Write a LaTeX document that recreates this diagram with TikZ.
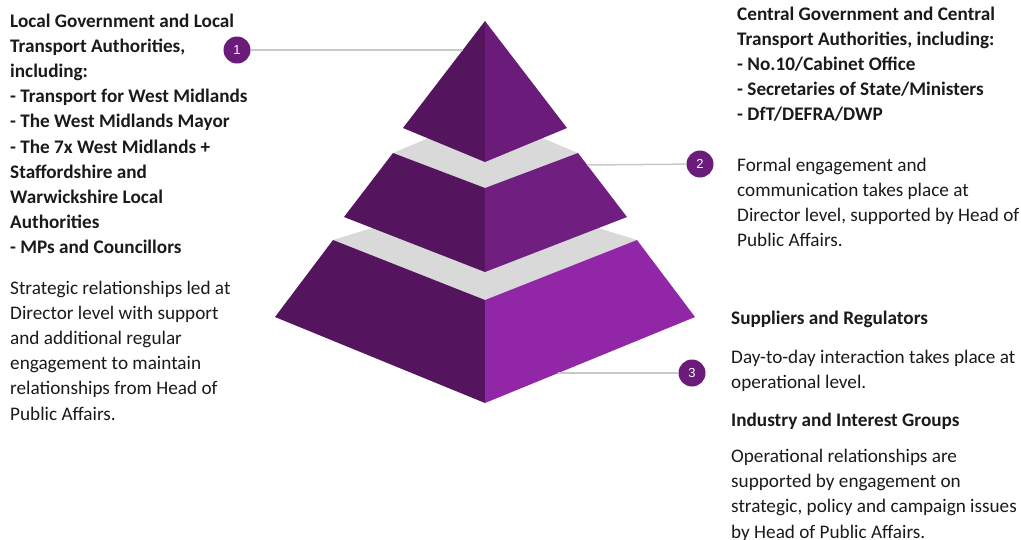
\documentclass[tikz,border=0pt]{standalone}
\usepackage{fontspec}
\setmainfont{Carlito}
\newfontfamily\numfont{Liberation Sans}
\definecolor{pdark}{HTML}{54155E}
\definecolor{ptop}{HTML}{6B1B7A}
\definecolor{pmid}{HTML}{701E80}
\definecolor{pbot}{HTML}{9126A7}
\definecolor{band}{HTML}{D9D9D9}
\definecolor{lgray}{HTML}{C8C8C8}
\definecolor{ink}{HTML}{1A1A1A}
\tikzset{
 txt/.style={anchor=north west,inner sep=0pt,align=left,text=ink,font=\fontsize{19.2}{25.2}\selectfont},
 bold/.style={txt,font=\bfseries\fontsize{19.2}{25.2}\selectfont},
 num/.style={circle,fill=ptop,text=white,minimum size=27pt,inner sep=0pt,font=\numfont\fontsize{13}{13}\selectfont},
 link/.style={draw=lgray,line width=1.5pt}
}
\begin{document}
\begin{tikzpicture}[x=1pt,y=-1pt]
 \useasboundingbox (0,0) rectangle (1021,539);
 % pyramid, back to front
 \fill[band] (333,240)--(485,193)--(637,240)--(485,300)--cycle;
 \fill[pdark] (333,240)--(485,300)--(485,403)--(275,317)--cycle;\fill[pbot] (637,240)--(485,300)--(485,403)--(695,317)--cycle;
 \fill[band] (393,153)--(485,114)--(578,153)--(485,188)--cycle;
 \fill[pdark] (393,153)--(485,188)--(485,272)--(344,217)--cycle;\fill[pmid] (578,153)--(485,188)--(485,272)--(627,217)--cycle;
 \fill[pdark] (485,21)--(403,128)--(485,162)--cycle;\fill[ptop] (485,21)--(567,128)--(485,162)--cycle;
 \coordinate (e1) at (463,50);\coordinate (e2) at (587,165);\coordinate (e3) at (558,373);
 \node[num] (c1) at (237,50) {1};\node[num] (c2) at (700,164) {2};\node[num] (c3) at (692,373) {3};
 \draw[link] (c1)--(e1);\draw[link] (e2)--(c2);\draw[link] (e3)--(c3);
 % texts
 \node[bold] (local) at (10,13.5) {Local Government and Local\\Transport Authorities,\\including:\\- Transport for West Midlands\\- The West Midlands Mayor\\- The 7x West Midlands +\\Staffordshire and\\Warwickshire Local\\Authorities\\- MPs and Councillors};
 \node[txt] (localtxt) at (10,280.5) {Strategic relationships led at\\Director level with support\\and additional regular\\engagement to maintain\\relationships from Head of\\Public Affairs.};
 \node[bold] (central) at (737,6.5) {Central Government and Central\\Transport Authorities, including:\\- No.10/Cabinet Office\\- Secretaries of State/Ministers\\- DfT/DEFRA/DWP};
 \node[txt] (centraltxt) at (737,157.5) {Formal engagement and\\communication takes place at\\Director level, supported by Head of\\Public Affairs.};
 \node[bold] (supp) at (731,310.5) {Suppliers and Regulators};
 \node[txt] (supptxt) at (731,349.5) {Day-to-day interaction takes place at\\operational level.};
 \node[bold] (ind) at (731,412.5) {Industry and Interest Groups};
 \node[txt] (indtxt) at (731,449) {Operational relationships are\\supported by engagement on\\strategic, policy and campaign issues\\by Head of Public Affairs.};
\end{tikzpicture}
\end{document}
